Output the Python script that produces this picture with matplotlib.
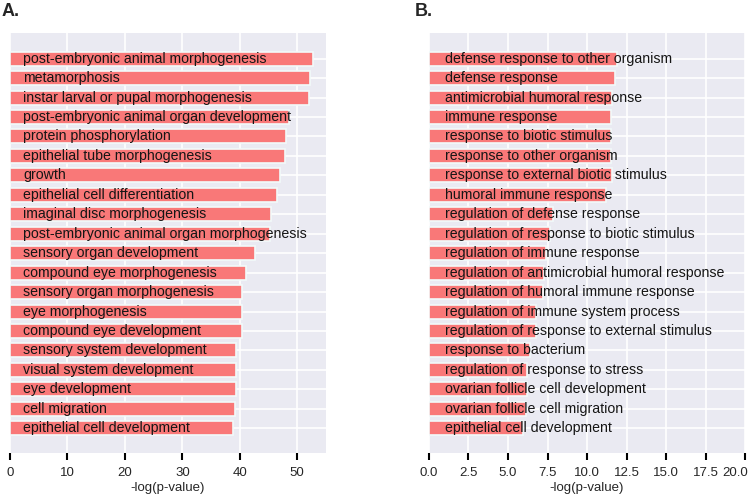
import matplotlib
matplotlib.use("Agg")
import matplotlib.pyplot as plt
import matplotlib.transforms as mtransforms
import seaborn as sns

sns.set_style("darkgrid")
plt.rcParams['font.family'] = ['Liberation Sans', 'DejaVu Sans']

terms_a = [
    "post-embryonic animal morphogenesis", "metamorphosis",
    "instar larval or pupal morphogenesis", "post-embryonic animal organ development",
    "protein phosphorylation", "epithelial tube morphogenesis", "growth",
    "epithelial cell differentiation", "imaginal disc morphogenesis",
    "post-embryonic animal organ morphogenesis", "sensory organ development",
    "compound eye morphogenesis", "sensory organ morphogenesis", "eye morphogenesis",
    "compound eye development", "sensory system development",
    "visual system development", "eye development", "cell migration",
    "epithelial cell development",
]
values_a = [52.8, 52.3, 52.1, 48.5, 48.0, 47.8, 47.0, 46.4, 45.5, 45.3,
            42.6, 41.1, 40.4, 40.4, 40.3, 39.3, 39.3, 39.3, 39.1, 38.8]

terms_b = [
    "defense response to other organism", "defense response",
    "antimicrobial humoral response", "immune response",
    "response to biotic stimulus", "response to other organism",
    "response to external biotic stimulus", "humoral immune response",
    "regulation of defense response", "regulation of response to biotic stimulus",
    "regulation of immune response", "regulation of antimicrobial humoral response",
    "regulation of humoral immune response", "regulation of immune system process",
    "regulation of response to external stimulus", "response to bacterium",
    "regulation of response to stress", "ovarian follicle cell development",
    "ovarian follicle cell migration", "epithelial cell development",
]
values_b = [11.9, 11.8, 11.6, 11.55, 11.55, 11.55, 11.57, 11.2, 7.85, 7.64,
            7.43, 7.26, 7.22, 6.8, 6.8, 6.42, 6.23, 6.23, 6.12, 5.95]

ticks_a = [0, 10, 20, 30, 40, 50]
ticks_b = [0.0, 2.5, 5.0, 7.5, 10.0, 12.5, 15.0, 17.5, 20.0]

fig = plt.figure(figsize=(7.5, 4.99), dpi=100)
ax_a = fig.add_axes([10/750, 1 - 453/499, 316/750, 420/499])
ax_b = fig.add_axes([429/750, 1 - 453/499, 316/750, 420/499])

bar_color = '#F97878'

def draw(ax, terms, values, xmax, ticks, fmt, text_off):
    ys = list(range(len(terms)))
    ax.barh(ys, values, height=0.72, color=bar_color, edgecolor='#F2FAFA',
            linewidth=1.2, zorder=2)
    for y, t in zip(ys, terms):
        ax.text(text_off, y, t, va='center', ha='left', fontsize=10.2,
                color='#151515', zorder=3)
    ax.set_ylim(len(terms) - 1 + 1.27, -1.32)
    ax.set_xlim(0, xmax)
    ax.set_yticks(ys)
    ax.set_yticklabels([])
    ax.tick_params(axis='y', length=0)
    ax.set_xticks(ticks)
    ax.set_xticklabels([fmt(t) for t in ticks], fontsize=9.5)
    ax.tick_params(axis='x', length=5, width=1.5, color='black', pad=5, direction='out',
                   bottom=True)
    ax.set_xlabel('-log(p-value)', fontsize=9.5, labelpad=2)
    ax.set_facecolor('#EAEAF2')
    ax.grid(True, color='white', linewidth=1.2, zorder=0)
    ax.set_axisbelow(True)
    for s in ax.spines.values():
        s.set_visible(False)

draw(ax_a, terms_a, values_a, 55, ticks_a, lambda v: f"{v:d}", 2.3)
draw(ax_b, terms_b, values_b, 20, ticks_b, lambda v: f"{v:.1f}", 1.0)

last = ax_b.get_xticklabels()[-1]
last.set_ha('right')
last.set_transform(last.get_transform() + mtransforms.ScaledTranslation(3/100, 0, fig.dpi_scale_trans))

fig.text(2/750, 1 - 12/499, 'A.', fontsize=13, fontweight='bold', va='center', ha='left')
fig.text(415/750, 1 - 12/499, 'B.', fontsize=13, fontweight='bold', va='center', ha='left')

fig.savefig('out.png', dpi=100)
